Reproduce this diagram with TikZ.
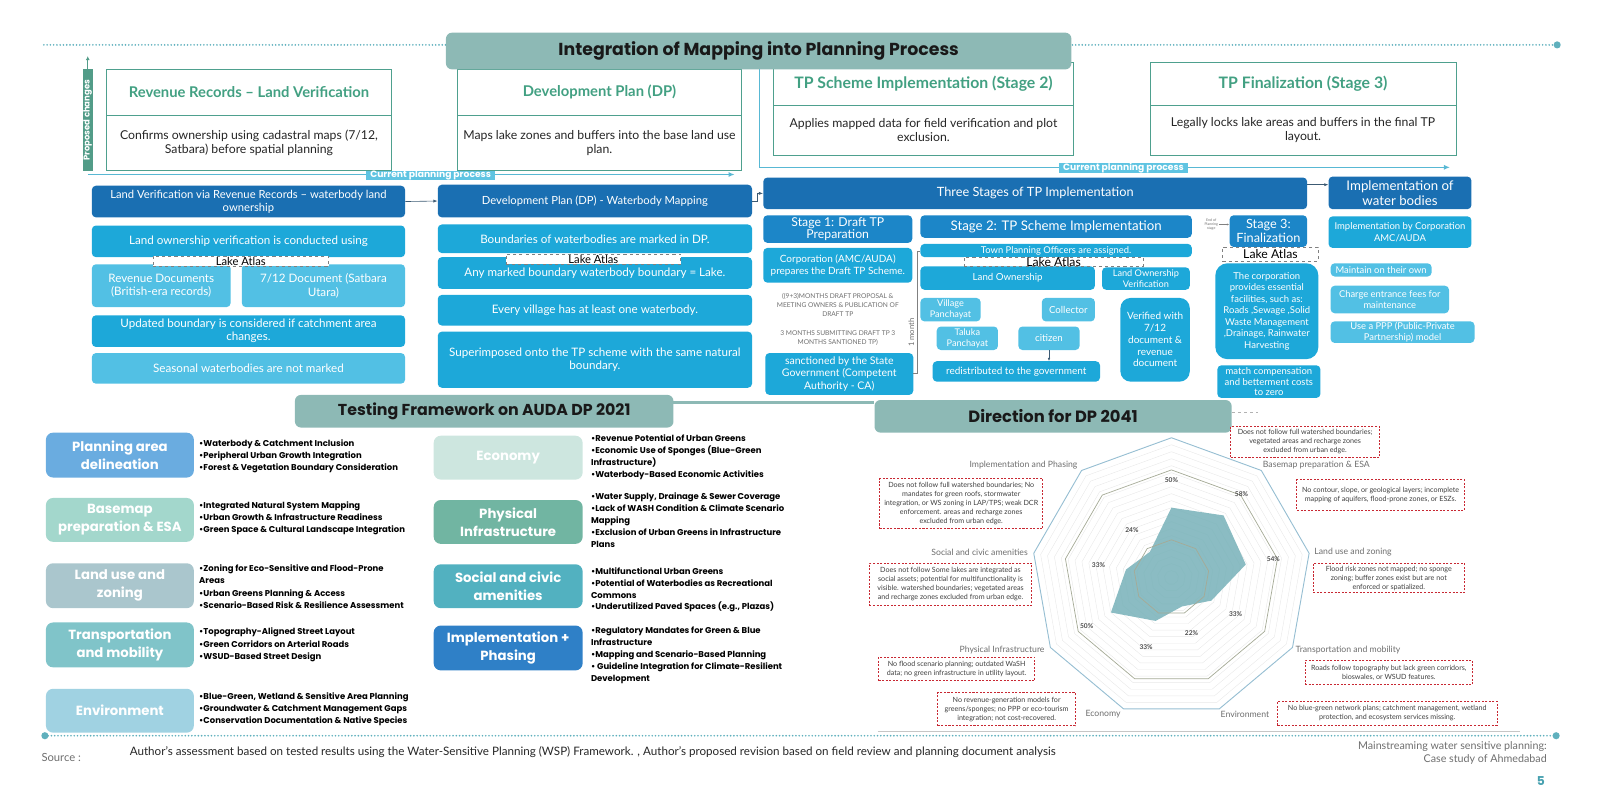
\documentclass[tikz,border=0pt]{standalone}
\usepackage{fontspec}
\setmainfont{Lato}
\newfontfamily\pop{Poppins}
\usetikzlibrary{arrows.meta}
\newcommand\fsz[2]{\fontsize{#1}{#2}\selectfont}
\definecolor{tealhdr}{RGB}{141,185,181}
\definecolor{tealline}{RGB}{78,160,142}
\definecolor{greentxt}{RGB}{66,160,130}
\definecolor{propbar}{RGB}{82,156,136}
\definecolor{cppline}{RGB}{88,184,212}
\definecolor{cppfill}{RGB}{95,196,226}
\definecolor{dotcol}{RGB}{95,176,189}
\definecolor{dkblue}{RGB}{26,111,178}
\definecolor{mdblue}{RGB}{28,134,200}
\definecolor{cyanb}{RGB}{29,168,217}
\definecolor{ltcyan}{RGB}{82,192,228}
\definecolor{cPlan}{RGB}{106,172,224}
\definecolor{cBase}{RGB}{163,215,204}
\definecolor{cLand}{RGB}{170,198,205}
\definecolor{cTrans}{RGB}{128,196,201}
\definecolor{cEnv}{RGB}{160,210,226}
\definecolor{cEco}{RGB}{205,230,223}
\definecolor{cPhys}{RGB}{113,181,162}
\definecolor{cSoc}{RGB}{82,177,192}
\definecolor{cImp}{RGB}{47,128,199}
\definecolor{radfill}{RGB}{126,181,188}
\definecolor{ringblue}{RGB}{150,190,210}
\definecolor{ringgray}{RGB}{165,170,150}
\definecolor{redbox}{RGB}{200,40,50}
\definecolor{txtgray}{RGB}{110,110,110}
\definecolor{pagenum}{RGB}{70,160,175}
\definecolor{arrcol}{RGB}{60,90,115}
\newcommand\mybox[7]{%
  \pgfmathsetmacro\mbw{#4-#2}\pgfmathsetmacro\mbh{#5-#3}%
  \pgfmathsetmacro\mbx{(#2+#4)/2}\pgfmathsetmacro\mby{(#3+#5)/2}%
  \node[#6, minimum width=\mbw pt, minimum height=\mbh pt] (#1) at (\mbx,\mby) {#7};}
\begin{document}
\begin{tikzpicture}[x=1pt,y=-1pt,
  every node/.style={inner sep=1pt, align=center},
  tb/.style={draw=tealline, line width=1pt, fill=white},
  tbh/.style={tb, text=greentxt, font=\fsz{14.5}{16}\bfseries},
  tbb/.style={tb, text=black!85, font=\fsz{12}{14}},
  titlest/.style={fill=tealhdr, rounded corners=6pt, text=black!90, font=\pop\bfseries\fsz{17}{18}},
  hd/.style={fill=dkblue, rounded corners=4pt, text=white, font=\fsz{11}{13}},
  sh/.style={fill=mdblue, rounded corners=4pt, text=white, font=\fsz{13}{14}},
  cb/.style={fill=cyanb, rounded corners=4pt, text=white, font=\fsz{11.4}{13}},
  lb/.style={fill=ltcyan, rounded corners=4pt, text=white, font=\fsz{11.4}{13}},
  la/.style={draw=gray, dashed, line width=0.6pt, fill=white, inner sep=0pt, font=\fsz{11}{11}},
  la2/.style={la, font=\fsz{12}{12}},
  plain/.style={text=txtgray, font=\fsz{6.5}{9}},
  cpplab/.style={fill=cppfill, text=white, font=\pop\bfseries\fsz{9}{10}, inner xsep=4pt, inner ysep=0pt},
  cpp/.style={draw=cppline, line width=1.2pt, -{Latex[length=6pt,width=5pt]}},
  arr/.style={draw=arrcol, line width=0.6pt, -{Latex[length=4pt,width=3pt]}},
  dots/.style={draw=dotcol, line width=1.8pt, dash pattern=on 0pt off 3.2pt, line cap=round},
  cat/.style={rounded corners=7pt, text=white, font=\pop\bfseries\fsz{13}{18}},
  bul/.style={anchor=west, align=left, text=black, font=\pop\bfseries\fsz{8.3}{12}},
  rb/.style={draw=redbox, dashed, dash pattern=on 2pt off 1.5pt, line width=0.9pt, fill=white, text=black!75, font=\fsz{7}{8.8}},
  axl/.style={text=txtgray, font=\fsz{8.5}{9}},
  pct/.style={text=black!70, font=\bfseries\fsz{6.5}{7}}]
\useasboundingbox (0,0) rectangle (1568,784);

% ---------- top dotted line ----------
\coordinate (dl1) at (43,44);
\coordinate (dr1) at (1526,44);
\draw[dots] (dl1) -- (dr1);
\fill[dotcol] (dr1) circle (3.5);

% ---------- proposed changes bar ----------
\mybox{prop}{81}{68}{91}{168}{fill=propbar}{}
\node[rotate=90, text=white, font=\pop\bfseries\fsz{8.3}{9}] (proptx) at (prop.center) {Proposed changes};
\coordinate (proptop) at (86,55);
\draw[draw=propbar, line width=0.9pt, -{Latex[length=4pt,width=4pt]}] (prop.north) -- (proptop);

% ---------- top row boxes ----------
\mybox{rrh}{104}{68}{384}{113}{tbh}{Revenue Records – Land Verification}
\mybox{rrb}{104}{113}{384}{167}{tbb}{Confirms ownership using cadastral maps (7/12,\\Satbara) before spatial planning}
\mybox{dph}{448}{68}{727}{113}{tbh}{Development Plan (DP)}
\mybox{dpb}{448}{113}{727}{167}{tbb}{Maps lake zones and buffers into the base land use\\plan.}
\mybox{tsh}{758}{61}{1052}{103}{tbh, font=\fsz{15.5}{17}\bfseries}{TP Scheme Implementation (Stage 2)}
\mybox{tsb}{758}{103}{1052}{152}{tbb}{Applies mapped data for field verification and plot\\exclusion.}
\mybox{tfh}{1127}{61}{1427}{103}{tbh, font=\fsz{15.5}{17}\bfseries}{TP Finalization (Stage 3)}
\mybox{tfb}{1127}{103}{1427}{152}{tbb}{Legally locks lake areas and buffers in the final TP\\layout.}

% current planning process 1
\coordinate (c1s) at (86,171);
\coordinate (c1e) at (720,171);
\draw[cpp] (c1s) -- (c1e);
\node[cpplab] (cpl1) at (422,172) {Current planning process};
% current planning process 2
\coordinate (c2a) at (744,67);
\coordinate (c2b) at (744,164);
\coordinate (c2e) at (1421,164);
\draw[cpp] (c2a) -- (c2b) -- (c2e);
\node[cpplab] (cpl2) at (1101,165) {Current planning process};

% title
\mybox{title}{437}{32}{1050}{68}{titlest}{Integration of Mapping into Planning Process}

% ---------- column 1 ----------
\mybox{c1h}{90}{182}{397}{213}{hd}{Land Verification via Revenue Records – waterbody land\\ownership}
\mybox{c1a}{90}{221}{397}{252}{cb}{Land ownership verification is conducted using}
\mybox{c1b}{90}{259}{226}{301}{lb}{Revenue Documents\\(British-era records)}
\mybox{c1c}{237}{259}{397}{301}{lb}{7/12 Document (Satbara\\Utara)}
\mybox{c1la}{150}{251}{322}{261}{la}{Lake Atlas}
\mybox{c1d}{90}{309}{397}{340}{cb}{Updated boundary is considered if catchment area\\changes.}
\mybox{c1e}{90}{346}{397}{376}{lb}{Seasonal waterbodies are not marked}

% ---------- column 2 ----------
\mybox{c2h}{429}{181}{737}{213}{hd}{Development Plan (DP) - Waterbody Mapping}
\mybox{c2a}{429}{220}{737}{248}{cb}{Boundaries of waterbodies are marked in DP.}
\mybox{c2b}{429}{252}{737}{283}{cb}{Any marked boundary waterbody boundary = Lake.}
\mybox{c2la}{496}{249}{667}{259}{la}{Lake Atlas}
\mybox{c2c}{429}{289}{737}{319}{cb}{Every village has at least one waterbody.}
\mybox{c2d}{429}{325}{737}{380}{cb}{Superimposed onto the TP scheme with the same natural\\boundary.}
\draw[arr] (c1h.east) -- (c2h.west);

% ---------- column 3 ----------
\mybox{tsh3}{748}{174}{1281}{205}{hd, font=\fsz{12.5}{14}}{Three Stages of TP Implementation}
\draw[arr] (c2h.east) -- ++(5,0) |- (tsh3.west);

\mybox{s1h}{748}{211}{894}{238}{sh, font=\fsz{12}{12.5}}{Stage 1: Draft TP\\Preparation}
\mybox{s1a}{748}{243}{894}{277}{cb, font=\fsz{9.8}{12}}{Corporation (AMC/AUDA)\\prepares the Draft TP Scheme.}
\node[plain] (s1t1) at (821,299) {((9+3)MONTHS DRAFT PROPOSAL \&\\MEETING OWNERS \& PUBLICATION OF\\DRAFT TP};
\node[plain] (s1t2) at (821,331) {3 MONTHS SUBMITTING DRAFT TP 3\\MONTHS SANTIONED TP)};
\mybox{s1b}{750}{346}{895}{387}{cb, font=\fsz{10.3}{12.3}}{sanctioned by the State\\Government (Competent\\Authority - CA)}

\mybox{s2h}{902}{211}{1168}{233}{sh}{Stage 2: TP Scheme Implementation}
\mybox{tp2a}{902}{239}{1168}{252}{cb, font=\fsz{9.2}{10}}{Town Planning Officers are assigned.}
\mybox{lo}{902}{261}{1073}{284}{cb, font=\fsz{9.5}{10}}{Land Ownership}
\mybox{lov}{1080}{262}{1166}{284}{cb, font=\fsz{9}{10}}{Land Ownership\\Verification}
\mybox{s2la}{945}{252}{1120}{261}{la2}{Lake Atlas}
\mybox{vp}{902}{292}{961}{315}{lb, font=\fsz{9}{10.5}}{Village\\Panchayat}
\mybox{col}{1021}{292}{1073}{315}{lb, font=\fsz{9.5}{10}}{Collector}
\mybox{tal}{918}{320}{978}{343}{lb, font=\fsz{9}{10.5}}{Taluka\\Panchayat}
\mybox{cit}{998}{320}{1058}{343}{lb, font=\fsz{9.5}{10}}{citizen}
\mybox{red}{914}{354}{1078}{374}{cb, font=\fsz{9.8}{10}}{redistributed to the government}
\mybox{ver}{1098}{292}{1166}{374}{cb, rounded corners=10pt, font=\fsz{9.8}{11.5}}{Verified with\\7/12\\document \&\\revenue\\document}
\draw[draw=arrcol, line width=0.5pt, -{Latex[length=3pt,width=2.5pt]}] (cit.south) -- (red.north -| cit.south);

% 1 month connector
\coordinate (m1) at (899,246);
\coordinate (m2) at (899,366);
\draw[draw=gray, line width=0.8pt] (s1b.east |- m2) -- (m2) -- (m1) -- (m1 -| tp2a.west);
\node[rotate=90, text=txtgray, font=\fsz{7.5}{8}] (mon) at (893,326) {1 month};

% stage 3
\mybox{s3h}{1205}{211}{1281}{242}{sh, font=\fsz{12.5}{13.5}}{Stage 3:\\Finalization}
\node[text=txtgray, font=\fsz{3.5}{4.2}] (eop) at (1187,220) {End of\\Planning\\stage};
\draw[draw=gray, line width=0.5pt, -{Latex[length=2.5pt,width=2pt]}] (eop.east) -- (eop.east -| s3h.west);
\mybox{s3la}{1198}{242}{1292}{256}{la2}{Lake Atlas}
\mybox{s3a}{1191}{258}{1292}{352}{cb, rounded corners=12pt, font=\fsz{9.3}{11.3}}{The corporation\\provides essential\\facilities, such as:\\Roads ,Sewage ,Solid\\Waste Management\\,Drainage, Rainwater\\Harvesting}
\mybox{s3b}{1193}{358}{1294}{390}{cb, font=\fsz{9.3}{10.5}}{match compensation\\and betterment costs\\to zero}

% ---------- column 4 ----------
\mybox{iwh}{1302}{173}{1442}{205}{hd, font=\fsz{13}{14.5}}{Implementation of\\water bodies}
\mybox{iw1}{1302}{212}{1442}{243}{cb, font=\fsz{9.3}{11.5}}{Implementation by Corporation\\AMC/AUDA}
\mybox{iw2}{1304}{258}{1403}{271}{lb, font=\fsz{9.2}{10}}{Maintain on their own}
\mybox{iw3}{1304}{280}{1420}{307}{lb, font=\fsz{9.2}{11}}{Charge entrance fees for\\maintenance}
\mybox{iw4}{1304}{315}{1445}{336}{lb, font=\fsz{9.2}{10.5}}{Use a PPP (Public-Private\\Partnership) model}
\coordinate (ia) at (1281,181);
\draw[arr] (ia) -- (ia -| iwh.west);

% ---------- bottom headers ----------
\mybox{tf}{289}{387}{660}{419}{titlest, font=\pop\bfseries\fsz{15.5}{17}}{Testing Framework on AUDA DP 2021}
\mybox{dir}{857}{392}{1207}{424}{titlest, font=\pop\bfseries\fsz{16}{17}}{Direction for DP 2041}
\coordinate (tl) at (660,394);
\draw[draw=tealhdr, line width=3pt] (tl) -- (tl -| dir.west);
\coordinate (dd) at (1233,404);
\draw[draw=gray!60, dashed, line width=0.6pt] (dd -| dir.east) -- (dd);

% ---------- left categories ----------
\mybox{k1}{45}{424}{190}{468}{cat, fill=cPlan}{Planning area\\delineation}
\mybox{k2}{45}{488}{190}{531}{cat, fill=cBase}{Basemap\\preparation \& ESA}
\mybox{k3}{45}{552}{190}{596}{cat, fill=cLand}{Land use and\\zoning}
\mybox{k4}{45}{610}{190}{654}{cat, fill=cTrans}{Transportation\\and mobility}
\mybox{k5}{45}{675}{190}{718}{cat, fill=cEnv}{Environment}
\node[bul] (b1) at (194,447) {•Waterbody \& Catchment Inclusion\\•Peripheral Urban Growth Integration\\•Forest \& Vegetation Boundary Consideration};
\node[bul] (b2) at (194,508) {•Integrated Natural System Mapping\\•Urban Growth \& Infrastructure Readiness\\•Green Space \& Cultural Landscape Integration};
\node[bul] (b3) at (194,575) { •Zoning for Eco-Sensitive and Flood-Prone\\Areas\\ •Urban Greens Planning \& Access\\ •Scenario-Based Risk \& Resilience Assessment};
\node[bul] (b4) at (194,632) {•Topography-Aligned Street Layout\\•Green Corridors on Arterial Roads\\•WSUD-Based Street Design};
\node[bul] (b5) at (194,695) {•Blue-Green, Wetland \& Sensitive Area Planning\\•Groundwater \& Catchment Management Gaps\\•Conservation Documentation \& Native Species};

% ---------- middle categories ----------
\mybox{m1}{425}{427}{571}{470}{cat, fill=cEco}{Economy}
\mybox{m2}{425}{490}{571}{533}{cat, fill=cPhys}{Physical\\Infrastructure}
\mybox{m3}{425}{553}{571}{596}{cat, fill=cSoc}{Social and civic\\amenities}
\mybox{m4}{425}{613}{571}{657}{cat, fill=cImp}{Implementation +\\Phasing}
\node[bul, font=\pop\bfseries\fsz{8.3}{11.7}] (n1) at (578,448) {•Revenue Potential of Urban Greens\\•Economic Use of Sponges (Blue-Green\\Infrastructure)\\•Waterbody-Based Economic Activities};
\node[bul, font=\pop\bfseries\fsz{8.3}{11.7}] (n2) at (578,510) {•Water Supply, Drainage \& Sewer Coverage\\•Lack of WASH Condition \& Climate Scenario\\Mapping\\•Exclusion of Urban Greens in Infrastructure\\Plans};
\node[bul, font=\pop\bfseries\fsz{8.3}{11.7}] (n3) at (578,578) { •Multifunctional Urban Greens\\ •Potential of Waterbodies as Recreational\\ Commons\\ •Underutilized Paved Spaces (e.g., Plazas)};
\node[bul, font=\pop\bfseries\fsz{8.3}{11.7}] (n4) at (578,642) {•Regulatory Mandates for Green \& Blue\\Infrastructure\\•Mapping and Scenario-Based Planning\\• Guideline Integration for Climate-Resilient\\Development};

% ---------- radar ----------
\def\cx{1148}\def\cy{566}\def\rr{137}
\foreach \f in {0.05,0.1,...,0.96}{
  \draw[draw=gray!18, line width=0.4pt] plot[samples at={90,130,...,410}] ({\cx+\f*\rr*cos(\x)},{\cy-\f*\rr*sin(\x)}) -- cycle;}
\foreach \a/\v/\n in {90/0.50/1,50/0.58/2,10/0.54/3,-30/0.33/4,-70/0.22/5,-110/0.33/6,-150/0.50/7,170/0.33/8,130/0.24/9}{
  \coordinate (d\n) at ({\cx+\v*\rr*cos(\a)},{\cy-\v*\rr*sin(\a)});}
\fill[radfill, opacity=0.9] (d1) -- (d2) -- (d3) -- (d4) -- (d5) -- (d6) -- (d7) -- (d8) -- (d9) -- cycle;
\foreach \f in {0.27,0.77}{
  \draw[draw=ringgray, line width=0.7pt] plot[samples at={90,130,...,410}] ({\cx+\f*\rr*cos(\x)},{\cy-\f*\rr*sin(\x)}) -- cycle;}
\draw[draw=ringblue, line width=0.9pt] plot[samples at={90,130,...,410}] ({\cx+\rr*cos(\x)},{\cy-\rr*sin(\x)}) -- cycle;
\foreach \a/\v/\n/\t in {90/0.50/1/50,50/0.58/2/58,10/0.54/3/54,-30/0.33/4/33,-70/0.22/5/22,-110/0.33/6/33,-150/0.50/7/50,170/0.33/8/33,130/0.24/9/24}{
  \node[pct] (p\n) at ({\cx+(\v+0.2)*\rr*cos(\a)},{\cy-(\v+0.2)*\rr*sin(\a)}) {\t\%};}
\node[axl] (al1) at (1003,456) {Implementation and Phasing};
\node[axl] (al2) at (960,541) {Social and civic amenities};
\node[axl] (al3) at (982,637) {Physical Infrastructure};
\node[axl] (al4) at (1081,700) {Economy};
\node[axl] (al5) at (1220,700) {Environment};
\node[axl] (al6) at (1321,637) {Transportation and mobility};
\node[axl] (al7) at (1326,541) {Land use and zoning};
\node[axl] (al8) at (1290,456) {Basemap preparation \& ESA};

% red dashed notes
\mybox{r1}{1206}{418}{1352}{448}{rb}{Does not follow full watershed boundaries;\\vegetated areas and recharge zones\\excluded from urban edge.}
\mybox{r2}{1271}{470}{1435}{500}{rb}{No contour, slope, or geological layers; incomplete\\mapping of aquifers, flood-prone zones, or ESZs.}
\mybox{r3}{1287}{552}{1435}{581}{rb}{Flood risk zones not mapped; no sponge\\zoning; buffer zones exist but are not\\enforced or spatialized.}
\mybox{r4}{1279}{647}{1443}{671}{rb}{Roads follow topography but lack green corridors,\\bioswales, or WSUD features.}
\mybox{r5}{1252}{687}{1467}{711}{rb}{No blue-green network plans; catchment management, wetland\\protection, and ecosystem services missing.}
\mybox{r6}{862}{469}{1022}{518}{rb}{Does not follow full watershed boundaries; No\\mandates for green roofs, stormwater\\integration, or WS zoning in LAP/TPS; weak DCR\\enforcement. areas and recharge zones\\excluded from urban edge.}
\mybox{r7}{852}{552}{1011}{593}{rb}{Does not follow Some lakes are integrated as\\social assets; potential for multifunctionality is\\visible. watershed boundaries; vegetated areas\\and recharge zones excluded from urban edge.}
\mybox{r8}{861}{644}{1014}{667}{rb}{No flood scenario planning; outdated WaSH\\data; no green infrastructure in utility layout.}
\mybox{r9}{919}{679}{1054}{711}{rb}{No revenue-generation models for\\greens/sponges; no PPP or eco-tourism\\integration; not cost-recovered.}

% ---------- footer ----------
\coordinate (fl) at (44,721);
\coordinate (fr) at (1525,721);
\coordinate (gl) at (860,717);
\coordinate (gr) at (1490,717);
\draw[draw=gray!45, line width=0.5pt] (gl) -- (gr);
\draw[dots] (fl) -- (fr);
\fill[dotcol] (fl) circle (3.5);
\fill[dotcol] (fr) circle (3.5);
\node[text=txtgray, font=\fsz{11}{12}] (src) at (60,742) {Source :};
\node[anchor=west, text=black!85, font=\fsz{11.4}{12}] (auth) at (126,737) {Author’s assessment based on tested results using the Water-Sensitive Planning (WSP) Framework. , Author’s proposed revision based on field review and planning document analysis};
\node[anchor=east, align=right, text=txtgray, font=\fsz{10.5}{13}] (ms) at (1517,738) {Mainstreaming water sensitive planning:\\Case study of Ahmedabad};
\node[text=pagenum, font=\pop\bfseries\fsz{12}{12}] (pg) at (1510,765) {5};
\end{tikzpicture}
\end{document}
